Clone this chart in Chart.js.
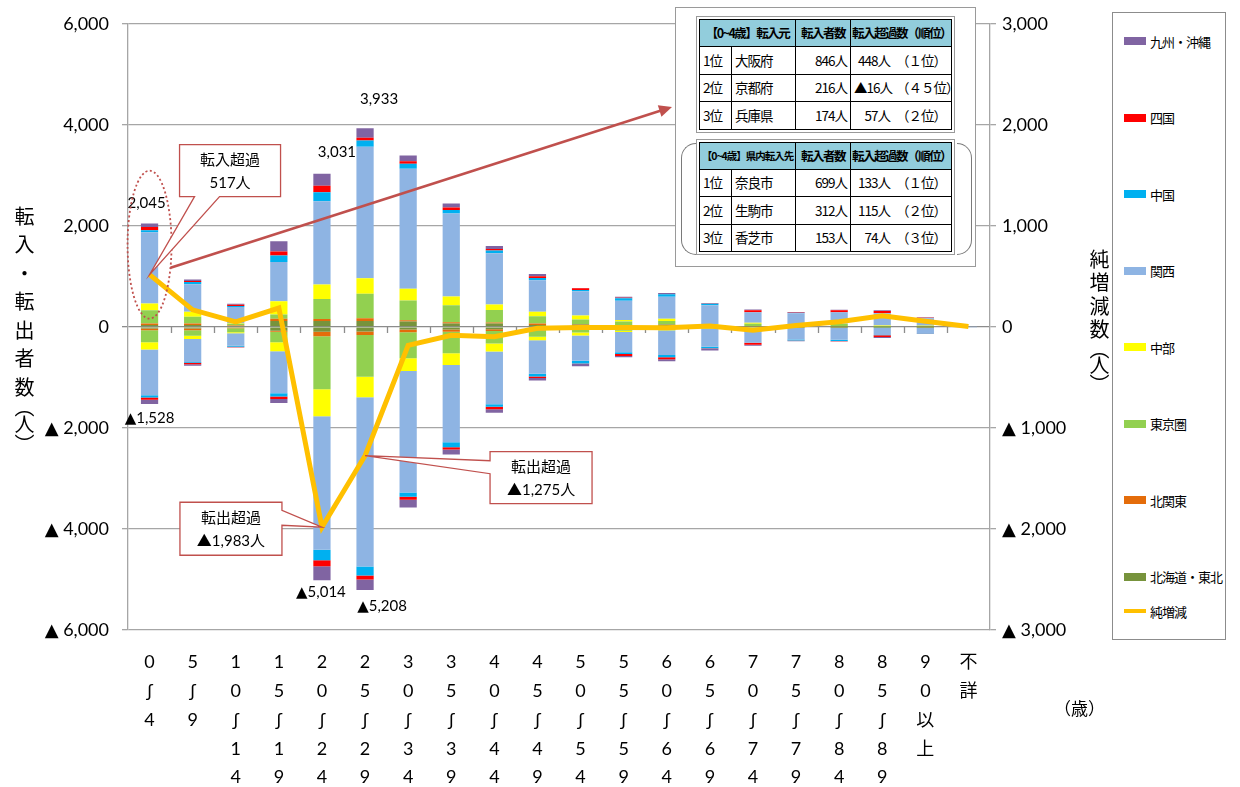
<!DOCTYPE html>
<html lang="ja">
<head>
<meta charset="utf-8">
<title>年齢別転入・転出者数</title>
<script src="https://cdn.jsdelivr.net/npm/chart.js@4.4.1/dist/chart.umd.min.js"></script>
<style>
  html, body { margin: 0; padding: 0; background: #fff; }
  #wrap { position: relative; width: 1240px; height: 787px; overflow: hidden;
          font-family: "Noto Sans CJK JP", sans-serif; color: #000; }
  #chart { position: absolute; left: 0; top: 0; }
  .vtitle { position: absolute; writing-mode: vertical-rl; text-orientation: mixed;
            white-space: nowrap; }
  #leftTitle { left: 10px; top: 206px; font-size: 20px; letter-spacing: 8.5px; }
  #leftTitle .a { letter-spacing: 0; }
  #leftTitle .b { letter-spacing: -3px; }
  #leftTitle .c { letter-spacing: 0; }
  #rightTitle { left: 1085px; top: 249px; font-size: 20px; letter-spacing: 3.5px; }
  #rightTitle .a { letter-spacing: 0; }
  #rightTitle .b { letter-spacing: -4px; }
  #rightTitle .c { letter-spacing: -1px; }
  #ageUnit { position: absolute; left: 1054px; top: 695px; font-size: 17px; }
  #legend { position: absolute; left: 1112px; top: 12px; width: 114px; height: 628px;
            border: 1px solid #8c8c8c; box-sizing: border-box; background: #fff; }
  .lg { position: absolute; left: 11px; height: 16px; display: flex; align-items: center;
        font-size: 13px; letter-spacing: -1px; white-space: nowrap; }
  .lg i { display: inline-block; width: 22px; height: 8px; margin-right: 4px; }
  #tblBox { position: absolute; left: 675px; top: 7px; width: 301px; height: 260px;
            border: 1.5px solid #9a9a9a; box-sizing: border-box; background: #fff; }
  .tframe { position: absolute; left: 696px; width: 259px; border: 1px solid #9a9a9a;
            padding: 2px; box-sizing: border-box; background: #fff; }
  .tframe table { width: 100%; height: 100%; border-collapse: collapse; table-layout: fixed; }
  .tframe td { border: 1.5px solid #000; font-size: 13.5px; padding: 0 3px; white-space: nowrap;
               overflow: hidden; letter-spacing: -1px; line-height: 1; }
  .tframe td.h { background: #92CDDC; font-weight: bold; text-align: center; font-size: 12.5px;
                 letter-spacing: -1.5px; padding: 0 1px; }
  .tframe td.h.small { font-size: 10.5px; letter-spacing: -1px; }
  .tframe td.n { text-align: right; }
  .tframe td .v { display: inline-block; width: 36px; text-align: right; }
  .tframe td .r { display: inline-block; padding-left: 6px; }
  .brk { position: absolute; top: 143px; width: 15px; height: 112px;
         border: 1.5px solid #7a7a7a; box-sizing: border-box; }
  #brkL { left: 681px; border-right: none; border-radius: 16px 0 0 16px; }
  #brkR { left: 957px; border-left: none; border-radius: 0 16px 16px 0; }
</style>
</head>
<body>
<div id="wrap">
  <canvas id="chart" width="1240" height="787"></canvas>
  <div id="leftTitle" class="vtitle">転入・転出者<span class="a">数</span><span class="b">（</span><span class="c">人</span>）</div>
  <div id="rightTitle" class="vtitle">純増減<span class="a">数</span><span class="b">（</span><span class="c">人</span>）</div>
  <div id="ageUnit">（歳）</div>
  <div id="legend"></div>
  <div id="tblBox"></div>
  <div id="brkL" class="brk"></div>
  <div id="brkR" class="brk"></div>
  <div class="tframe" style="top:16px;height:117px">
    <table id="tblFrom"></table>
  </div>
  <div class="tframe" style="top:139px;height:116px">
    <table id="tblTo"></table>
  </div>
</div>
<script>
// 年齢階級（縦書きラベル）
const ageLabels = [
    ['0', 'ʃ', '4'], ['5', 'ʃ', '9'],
    ['1', '0', 'ʃ', '1', '4'], ['1', '5', 'ʃ', '1', '9'],
    ['2', '0', 'ʃ', '2', '4'], ['2', '5', 'ʃ', '2', '9'],
    ['3', '0', 'ʃ', '3', '4'], ['3', '5', 'ʃ', '3', '9'],
    ['4', '0', 'ʃ', '4', '4'], ['4', '5', 'ʃ', '4', '9'],
    ['5', '0', 'ʃ', '5', '4'], ['5', '5', 'ʃ', '5', '9'],
    ['6', '0', 'ʃ', '6', '4'], ['6', '5', 'ʃ', '6', '9'],
    ['7', '0', 'ʃ', '7', '4'], ['7', '5', 'ʃ', '7', '9'],
    ['8', '0', 'ʃ', '8', '4'], ['8', '5', 'ʃ', '8', '9'],
    ['9', '0', '以', '上'], ['不', '詳']
];

// 地域（0 に近い順）
const regions = ['北海道・東北', '北関東', '東京圏', '中部', '関西', '中国', '四国', '九州・沖縄'];
const regionColors = ['#77933C', '#E46C0A', '#92D050', '#FFFF00', '#8EB4E3', '#00B0F0', '#FF0000', '#8064A2'];

// 転入者数（地域別）
const inHokkaidoTohoku = [39, 39, 20, 117, 118, 118, 105, 66, 65, 39, 46, 30, 46, 10, 10, 3, 5, 3, 5, 0];
const inKitaKanto      = [26, 26, 10, 45, 40, 52, 26, 26, 20, 26, 10, 10, 5, 5, 5, 2, 3, 2, 2, 0];
const inTokyoArea      = [266, 136, 30, 84, 394, 485, 394, 335, 249, 144, 92, 66, 66, 20, 46, 5, 50, 10, 15, 0];
const inChubu          = [130, 97, 10, 260, 289, 308, 230, 177, 111, 92, 79, 33, 46, 20, 20, 3, 5, 15, 8, 0];
const inKansai         = [1415, 545, 325, 779, 1646, 2603, 2375, 1640, 1014, 621, 477, 380, 436, 375, 204, 255, 220, 239, 140, 20];
const inChugoku        = [39, 45, 20, 130, 177, 125, 98, 72, 52, 46, 26, 46, 46, 26, 5, 8, 8, 8, 5, 0];
const inShikoku        = [65, 19, 25, 78, 131, 52, 52, 46, 33, 33, 33, 10, 5, 5, 39, 5, 40, 40, 6, 0];
const inKyushuOkinawa  = [65, 32, 20, 201, 236, 190, 112, 79, 59, 46, 7, 20, 20, 13, 13, 15, 10, 13, 10, 0];

// 転出者数（地域別）
const outHokkaidoTohoku = [32, 32, 15, 78, 98, 92, 52, 52, 46, 46, 39, 26, 20, 10, 10, 3, 3, 2, 3, 0];
const outKitaKanto      = [32, 32, 10, 20, 85, 66, 52, 46, 33, 20, 7, 5, 5, 5, 3, 2, 2, 1, 2, 0];
const outTokyoArea      = [240, 110, 80, 208, 1050, 827, 518, 426, 249, 131, 66, 46, 39, 15, 10, 3, 5, 3, 5, 0];
const outChubu          = [143, 65, 20, 175, 538, 407, 249, 230, 157, 65, 59, 26, 7, 5, 5, 2, 2, 3, 3, 0];
const outKansai         = [907, 454, 250, 831, 2639, 3350, 2408, 1528, 1046, 667, 500, 400, 483, 360, 281, 240, 240, 153, 107, 15];
const outChugoku        = [45, 19, 20, 65, 210, 177, 85, 98, 52, 52, 53, 33, 46, 26, 7, 20, 28, 5, 5, 0];
const outShikoku        = [45, 26, 10, 52, 118, 79, 59, 46, 46, 33, 7, 39, 39, 5, 39, 3, 3, 35, 3, 0];
const outKyushuOkinawa  = [84, 32, 5, 78, 276, 210, 151, 98, 72, 46, 46, 26, 39, 39, 20, 10, 7, 18, 7, 0];

// 純増減（右軸）
const netChange = [517, 169, 50, 187, -1983, -1275, -182, -83, -98, -13, -7, -6, -8, 9, -33, 13, 51, 110, 56, 5];

// 軸目盛
const leftTicks = [6000, 4000, 2000, 0, -2000, -4000, -6000];
const rightTicks = [3000, 2000, 1000, 0, -1000, -2000, -3000];

// 表のデータ
const fromHeader = ['【0~4歳】転入元', '転入者数', '転入超過数（順位）'];
const fromRows = [
    ['1位', '大阪府', '846人', '448人', '（１位）'],
    ['2位', '京都府', '216人', '▲16人', '（４５位）'],
    ['3位', '兵庫県', '174人', '57人', '（２位）']
];
const toHeader = ['【0~4歳】県内転入先', '転入者数', '転入超過数（順位）'];
const toRows = [
    ['1位', '奈良市', '699人', '133人', '（１位）'],
    ['2位', '生駒市', '312人', '115人', '（２位）'],
    ['3位', '香芝市', '153人', '74人', '（３位）']
];

const inflow = [inHokkaidoTohoku, inKitaKanto, inTokyoArea, inChubu, inKansai, inChugoku, inShikoku, inKyushuOkinawa];
const outflow = [outHokkaidoTohoku, outKitaKanto, outTokyoArea, outChubu, outKansai, outChugoku, outShikoku, outKyushuOkinawa];

const numFont = 'Lato, "DejaVu Sans", "Noto Sans CJK JP", sans-serif';
const jpFont = 'Lato, "Noto Sans CJK JP", sans-serif';
const RED = '#C0504D';

function fmt(v) {
    return v < 0 ? '▲ ' + Math.abs(v).toLocaleString('en-US') : v.toLocaleString('en-US');
}
function fmtTight(v) {
    return v < 0 ? '▲' + Math.abs(v).toLocaleString('en-US') : v.toLocaleString('en-US');
}
function total(arrs, i) {
    return arrs.reduce((s, a) => s + a[i], 0);
}

// ---- tables ----
function buildTable(el, header, rows, smallHead) {
    const cols = '<colgroup><col style="width:32px"><col style="width:64px"><col style="width:55px"><col></colgroup>';
    let html = cols + '<tr style="height:27px">' +
        `<td class="h${smallHead ? ' small' : ''}" colspan="2">${header[0]}</td>` +
        `<td class="h">${header[1]}</td><td class="h">${header[2]}</td></tr>`;
    rows.forEach(r => {
        html += `<tr><td>${r[0]}</td><td>${r[1]}</td><td class="n">${r[2]}</td>` +
            `<td><span class="v">${r[3]}</span><span class="r">${r[4]}</span></td></tr>`;
    });
    el.innerHTML = html;
}
buildTable(document.getElementById('tblFrom'), fromHeader, fromRows, false);
buildTable(document.getElementById('tblTo'), toHeader, toRows, true);

// ---- legend (外側から順に) ----
const legendEl = document.getElementById('legend');
for (let k = regions.length - 1, n = 0; k >= 0; k--, n++) {
    const d = document.createElement('div');
    d.className = 'lg';
    d.style.top = (20 + n * 76.5) + 'px';
    d.innerHTML = `<i style="background:${regionColors[k]}"></i>${regions[k]}`;
    legendEl.appendChild(d);
}
const netLg = document.createElement('div');
netLg.className = 'lg';
netLg.style.top = '590px';
netLg.innerHTML = '<i style="background:#FFC000;height:4px"></i>純増減';
legendEl.appendChild(netLg);

// ---- plugins ----
const zeroTicks = {
    id: 'zeroTicks',
    beforeDatasetsDraw(chart) {
        const { ctx, scales: { x, y } } = chart;
        const y0 = y.getPixelForValue(0);
        const step = x.width / ageLabels.length;
        ctx.save();
        ctx.strokeStyle = '#8c8c8c';
        ctx.lineWidth = 1.3;
        ctx.beginPath();
        for (let i = 1; i < ageLabels.length; i++) {
            const px = Math.round(x.left + step * i) + 0.5;
            ctx.moveTo(px, y0);
            ctx.lineTo(px, y0 + 6);
        }
        ctx.stroke();
        ctx.restore();
    }
};

function callout(ctx, box, tail, tip, lines) {
    const { x, y, w, h } = box;
    ctx.beginPath();
    ctx.moveTo(x, y);
    if (tail.side === 'left') {
        ctx.lineTo(x + w, y); ctx.lineTo(x + w, y + h); ctx.lineTo(x, y + h);
        ctx.lineTo(x, y + tail.b); ctx.lineTo(tip.x, tip.y); ctx.lineTo(x, y + tail.a);
    } else if (tail.side === 'right') {
        ctx.lineTo(x + w, y); ctx.lineTo(x + w, y + tail.a); ctx.lineTo(tip.x, tip.y);
        ctx.lineTo(x + w, y + tail.b); ctx.lineTo(x + w, y + h); ctx.lineTo(x, y + h);
    } else {
        ctx.lineTo(x + w, y); ctx.lineTo(x + w, y + h);
        ctx.lineTo(x + tail.b, y + h); ctx.lineTo(tip.x, tip.y); ctx.lineTo(x + tail.a, y + h);
        ctx.lineTo(x, y + h);
    }
    ctx.closePath();
    ctx.fillStyle = '#fff';
    ctx.fill();
    ctx.strokeStyle = RED;
    ctx.lineWidth = 1.3;
    ctx.stroke();
    ctx.fillStyle = '#000';
    ctx.font = '15px ' + jpFont;
    ctx.textAlign = 'center';
    ctx.textBaseline = 'middle';
    ctx.fillText(lines[0], x + w / 2, y + h / 2 - 11);
    ctx.fillText(lines[1], x + w / 2, y + h / 2 + 12);
}

const annotations = {
    id: 'annotations',
    afterDraw(chart) {
        const { ctx, scales: { x, y, y2 } } = chart;
        const pt = i => ({ x: x.getPixelForValue(i), y: y2.getPixelForValue(netChange[i]) });

        ctx.save();
        // bar total labels
        ctx.font = '15px ' + numFont;
        ctx.fillStyle = '#000';
        ctx.textAlign = 'center';
        ctx.textBaseline = 'middle';
        const barLabels = [[0, 1, -3, -20], [0, -1, 0, 14], [4, 1, 15, -22], [5, 1, 14, -29], [4, -1, -1, 12], [5, -1, 17, 16]];
        barLabels.forEach(([i, dir, dx, dy]) => {
            const v = dir > 0 ? total(inflow, i) : -total(outflow, i);
            ctx.fillText(fmtTight(v), x.getPixelForValue(i) + dx, y.getPixelForValue(v) + dy);
        });

        // dotted ellipse round the 0-4 bar
        const p0 = pt(0);
        ctx.setLineDash([2, 2.5]);
        ctx.strokeStyle = RED;
        ctx.lineWidth = 1.8;
        ctx.beginPath();
        ctx.ellipse(p0.x, p0.y - 30, 22, 74, 0, 0, Math.PI * 2);
        ctx.stroke();
        ctx.setLineDash([]);

        // arrow to the table
        const ax0 = p0.x + 21, ay0 = p0.y - 7, ax1 = 672, ay1 = 107;
        const ang = Math.atan2(ay1 - ay0, ax1 - ax0);
        ctx.lineWidth = 2.6;
        ctx.beginPath();
        ctx.moveTo(ax0, ay0);
        ctx.lineTo(ax1 - 9 * Math.cos(ang), ay1 - 9 * Math.sin(ang));
        ctx.stroke();
        ctx.fillStyle = RED;
        ctx.beginPath();
        ctx.moveTo(ax1, ay1);
        ctx.lineTo(ax1 - 13 * Math.cos(ang) + 6 * Math.sin(ang), ay1 - 13 * Math.sin(ang) - 6 * Math.cos(ang));
        ctx.lineTo(ax1 - 13 * Math.cos(ang) - 6 * Math.sin(ang), ay1 - 13 * Math.sin(ang) + 6 * Math.cos(ang));
        ctx.closePath();
        ctx.fill();

        // callouts
        callout(ctx, { x: p0.x + 30, y: p0.y - 130, w: 101, h: 52 }, { side: 'bottom', a: 15, b: 40 }, p0,
            ['転入超過', netChange[0] + '人']);
        const p4 = pt(4);
        callout(ctx, { x: p4.x - 142, y: p4.y - 25, w: 102, h: 53 }, { side: 'right', a: 8, b: 23 }, p4,
            ['転出超過', fmtTight(netChange[4]) + '人']);
        const p5 = pt(5);
        callout(ctx, { x: p5.x + 125, y: p5.y - 4, w: 102, h: 52 }, { side: 'left', a: 9, b: 22 }, p5,
            ['転出超過', fmtTight(netChange[5]) + '人']);
        ctx.restore();
    }
};

// ---- chart ----
const barDatasets = [];
regions.forEach((r, k) => {
    barDatasets.push({
        label: r + '（転入）', data: inflow[k], backgroundColor: regionColors[k],
        stack: 'flow', order: 1, yAxisID: 'y', barPercentage: 0.4, categoryPercentage: 1
    });
});
regions.forEach((r, k) => {
    barDatasets.push({
        label: r + '（転出）', data: outflow[k].map(v => -v), backgroundColor: regionColors[k],
        stack: 'flow', order: 1, yAxisID: 'y', barPercentage: 0.4, categoryPercentage: 1
    });
});

new Chart(document.getElementById('chart'), {
    type: 'bar',
    data: {
        labels: ageLabels,
        datasets: [
            {
                type: 'line', label: '純増減', data: netChange, yAxisID: 'y2', order: 0,
                borderColor: '#FFC000', borderWidth: 5, pointRadius: 0, tension: 0,
                borderJoinStyle: 'miter', fill: false
            },
            ...barDatasets
        ]
    },
    options: {
        responsive: false,
        animation: false,
        devicePixelRatio: 1,
        layout: { padding: { top: 22, left: 0, right: 0, bottom: 0 } },
        plugins: { legend: { display: false }, tooltip: { enabled: false } },
        scales: {
            x: {
                stacked: true,
                grid: { display: false, drawTicks: false },
                border: { display: false },
                ticks: {
                    autoSkip: false, maxRotation: 0, padding: 18, color: '#000',
                    font: { family: 'Lato, "DejaVu Sans", "Noto Sans CJK JP", sans-serif', size: 18, lineHeight: 1.6 }
                },
                afterFit: s => { s.height = 157; }
            },
            y: {
                stacked: true, position: 'left', min: -6000, max: 6000,
                afterBuildTicks: s => { s.ticks = leftTicks.map(v => ({ value: v })); },
                grid: {
                    color: c => (c.tick && c.tick.value === 0) ? '#8c8c8c' : '#a6a6a6',
                    lineWidth: 1.3, tickLength: 6
                },
                border: { color: '#a6a6a6', width: 1.3 },
                ticks: { callback: v => fmt(v), color: '#000', padding: 13, font: { family: numFont, size: 18 } },
                afterFit: s => { s.width = 128; }
            },
            y2: {
                position: 'right', min: -3000, max: 3000,
                afterBuildTicks: s => { s.ticks = rightTicks.map(v => ({ value: v })); },
                grid: { drawOnChartArea: false, color: '#a6a6a6', lineWidth: 1.3, tickLength: 6 },
                border: { color: '#a6a6a6', width: 1.3 },
                ticks: { callback: v => fmt(v), color: '#000', padding: 6, font: { family: numFont, size: 18 } },
                afterFit: s => { s.width = 250; }
            }
        }
    },
    plugins: [zeroTicks, annotations]
});
</script>
</body>
</html>
